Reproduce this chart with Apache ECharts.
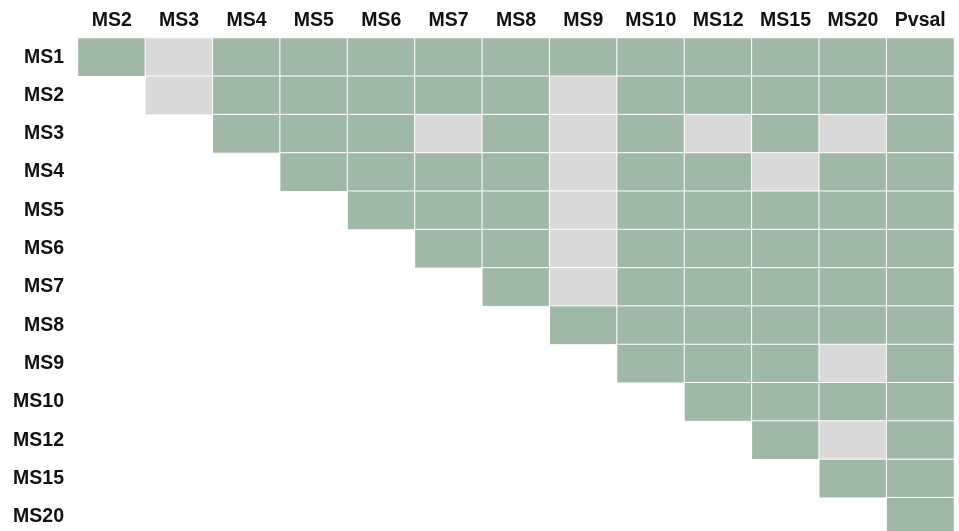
<!DOCTYPE html>
<html>
<head>
<meta charset="utf-8">
<script src="https://cdn.jsdelivr.net/npm/echarts@6/dist/echarts.min.js"></script>
<style>
  html, body { margin: 0; padding: 0; background: #fff; }
  #chart { width: 959px; height: 531px; }
</style>
</head>
<body>
<div id="chart"></div>
<script>
  // column and row categories
  const cols = ['MS2', 'MS3', 'MS4', 'MS5', 'MS6', 'MS7', 'MS8', 'MS9', 'MS10', 'MS12', 'MS15', 'MS20', 'Pvsal'];
  const rows = ['MS1', 'MS2', 'MS3', 'MS4', 'MS5', 'MS6', 'MS7', 'MS8', 'MS9', 'MS10', 'MS12', 'MS15', 'MS20'];

  // 1 = significant (green), 0 = not (grey), null = empty (lower triangle)
  const matrix = [
    [1, 0, 1, 1, 1, 1, 1, 1, 1, 1, 1, 1, 1],
    [null, 0, 1, 1, 1, 1, 1, 0, 1, 1, 1, 1, 1],
    [null, null, 1, 1, 1, 0, 1, 0, 1, 0, 1, 0, 1],
    [null, null, null, 1, 1, 1, 1, 0, 1, 1, 0, 1, 1],
    [null, null, null, null, 1, 1, 1, 0, 1, 1, 1, 1, 1],
    [null, null, null, null, null, 1, 1, 0, 1, 1, 1, 1, 1],
    [null, null, null, null, null, null, 1, 0, 1, 1, 1, 1, 1],
    [null, null, null, null, null, null, null, 1, 1, 1, 1, 1, 1],
    [null, null, null, null, null, null, null, null, 1, 1, 1, 0, 1],
    [null, null, null, null, null, null, null, null, null, 1, 1, 1, 1],
    [null, null, null, null, null, null, null, null, null, null, 1, 0, 1],
    [null, null, null, null, null, null, null, null, null, null, null, 1, 1],
    [null, null, null, null, null, null, null, null, null, null, null, null, 1]
  ];

  let data = [];
  for (let r = 0; r < rows.length; r++) {
    for (let c = 0; c < cols.length; c++) {
      if (matrix[r][c] !== null) data.push([c, r, matrix[r][c]]);
    }
  }

  const chart = echarts.init(document.getElementById('chart'));
  const labelStyle = {
    fontFamily: 'Liberation Sans, Arial, sans-serif',
    fontWeight: 'bold',
    fontSize: 19.5,
    color: '#111'
  };

  const option = {
    animation: false,
    grid: { left: 78, top: 38, width: 876, height: 498, outerBoundsMode: 'none' },
    xAxis: {
      type: 'category',
      position: 'top',
      data: cols,
      axisLine: { show: false },
      axisTick: { show: false },
      splitLine: { show: false },
      axisLabel: Object.assign({ margin: 7, interval: 0 }, labelStyle)
    },
    yAxis: {
      type: 'category',
      inverse: true,
      data: rows,
      axisLine: { show: false },
      axisTick: { show: false },
      splitLine: { show: false },
      axisLabel: Object.assign({ margin: 14, interval: 0 }, labelStyle)
    },
    visualMap: {
      show: false,
      type: 'piecewise',
      dimension: 2,
      pieces: [
        { value: 1, color: '#9fb9a6' },
        { value: 0, color: '#d9d9d9' }
      ]
    },
    series: [{
      type: 'heatmap',
      data: data,
      itemStyle: { borderColor: '#fff', borderWidth: 1 },
      label: { show: false },
      emphasis: { disabled: true }
    }]
  };
  chart.setOption(option);
</script>
</body>
</html>
